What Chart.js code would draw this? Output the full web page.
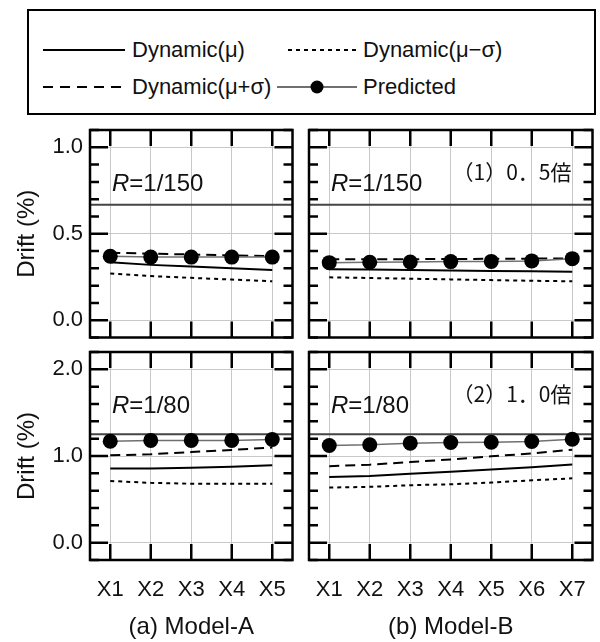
<!DOCTYPE html>
<html>
<head>
<meta charset="utf-8">
<script src="https://cdn.jsdelivr.net/npm/chart.js@4"></script>
<style>
  body { margin: 0; background: #fff; }
  #page { position: relative; width: 600px; height: 642px; overflow: hidden; font-family: 'Liberation Sans', Arial, sans-serif; color: #111; }
  .box { position: absolute; }
  #legend { position: absolute; left: 27px; top: 9px; width: 569px; height: 106px; box-sizing: border-box; border: 2px solid #000; }
  .lg { position: absolute; font-size: 22px; line-height: 26px; white-space: nowrap; }
  svg.sample { position: absolute; left: 0; top: 0; }
</style>
</head>
<body>
<div id="page">
  <div id="legend"></div>
  <svg class="sample" width="600" height="120">
    <line x1="43" y1="50" x2="125" y2="50" stroke="#000" stroke-width="2"/>
    <line x1="288" y1="50" x2="358" y2="50" stroke="#000" stroke-width="2" stroke-dasharray="4 4"/>
    <line x1="43" y1="87" x2="125" y2="87" stroke="#000" stroke-width="2" stroke-dasharray="10 7"/>
    <line x1="277" y1="87" x2="357" y2="87" stroke="#707070" stroke-width="2"/>
    <circle cx="317" cy="87" r="6.5" fill="#000"/>
  </svg>
  <span class="lg" style="left:132px; top:37px;">Dynamic(μ)</span>
  <span class="lg" style="left:363px; top:37px;">Dynamic(μ−σ)</span>
  <span class="lg" style="left:132px; top:74px;">Dynamic(μ+σ)</span>
  <span class="lg" style="left:363px; top:74px;">Predicted</span>

  <div class="box" style="left:0; top:120px; width:300px; height:225px;"><canvas id="tl"></canvas></div>
  <div class="box" style="left:300px; top:120px; width:300px; height:225px;"><canvas id="tr"></canvas></div>
  <div class="box" style="left:0; top:342px; width:300px; height:300px;"><canvas id="bl"></canvas></div>
  <div class="box" style="left:300px; top:342px; width:300px; height:300px;"><canvas id="br"></canvas></div>
</div>
<script>
// categories
const catsA = ['X1', 'X2', 'X3', 'X4', 'X5'];
const catsB = ['X1', 'X2', 'X3', 'X4', 'X5', 'X6', 'X7'];

// reference drift limits (%)
const refTop = 0.667;    // R=1/150
const refBottom = 1.25;  // R=1/80

// Model-A, R=1/150
const a150Mu   = [0.335, 0.32, 0.31, 0.30, 0.29];
const a150Lo   = [0.27, 0.255, 0.245, 0.235, 0.225];
const a150Hi   = [0.39, 0.385, 0.38, 0.375, 0.37];
const a150Pred = [0.37, 0.365, 0.365, 0.365, 0.365];

// Model-B, R=1/150
const b150Mu   = [0.295, 0.293, 0.29, 0.287, 0.285, 0.283, 0.28];
const b150Lo   = [0.248, 0.244, 0.24, 0.236, 0.232, 0.228, 0.225];
const b150Hi   = [0.352, 0.352, 0.353, 0.354, 0.355, 0.356, 0.358];
const b150Pred = [0.333, 0.335, 0.337, 0.339, 0.34, 0.343, 0.356];

// Model-A, R=1/80
const a80Mu   = [0.856, 0.857, 0.864, 0.875, 0.894];
const a80Lo   = [0.712, 0.69, 0.68, 0.68, 0.68];
const a80Hi   = [1.008, 1.02, 1.045, 1.07, 1.098];
const a80Pred = [1.17, 1.18, 1.18, 1.18, 1.19];

// Model-B, R=1/80
const b80Mu   = [0.758, 0.769, 0.795, 0.818, 0.845, 0.871, 0.902];
const b80Lo   = [0.636, 0.644, 0.663, 0.674, 0.693, 0.72, 0.742];
const b80Hi   = [0.883, 0.90, 0.93, 0.96, 0.996, 1.03, 1.072];
const b80Pred = [1.121, 1.129, 1.148, 1.155, 1.159, 1.167, 1.193];

Chart.defaults.font.family = "'Liberation Sans', Arial, sans-serif";
Chart.defaults.color = '#111';

// frame, inward ticks, reference line and panel notes
const framePlugin = {
  id: 'frame',
  beforeDatasetsDraw(chart, args, opts) {
    const { ctx, chartArea: a, scales } = chart;
    const y = scales.y.getPixelForValue(opts.ref);
    ctx.save();
    ctx.strokeStyle = '#454545';
    ctx.lineWidth = 2;
    ctx.beginPath();
    ctx.moveTo(a.left, y);
    ctx.lineTo(a.right, y);
    ctx.stroke();
    ctx.restore();
  },
  afterDatasetsDraw(chart, args, opts) {
    const { ctx, chartArea: a, scales } = chart;
    ctx.save();
    ctx.strokeStyle = '#000';
    ctx.lineWidth = 2.5;
    // left / right ticks
    const ys = scales.y;
    const k0 = Math.ceil(ys.min / opts.minor - 1e-6);
    const k1 = Math.floor(ys.max / opts.minor + 1e-6);
    ctx.beginPath();
    for (let k = k0; k <= k1; k++) {
      const v = k * opts.minor;
      const r = v / opts.major;
      const len = Math.abs(r - Math.round(r)) < 1e-6 ? 18 : 9;
      const py = ys.getPixelForValue(v);
      ctx.moveTo(a.left, py); ctx.lineTo(a.left + len, py);
      ctx.moveTo(a.right, py); ctx.lineTo(a.right - len, py);
    }
    // top / bottom ticks
    chart.data.labels.forEach((c, i) => {
      const px = scales.x.getPixelForValue(i);
      ctx.moveTo(px, a.top); ctx.lineTo(px, a.top + 16);
      ctx.moveTo(px, a.bottom); ctx.lineTo(px, a.bottom - 16);
    });
    ctx.stroke();
    ctx.strokeRect(a.left, a.top, a.right - a.left, a.bottom - a.top);

    // R label
    ctx.fillStyle = '#111';
    ctx.textBaseline = 'middle';
    ctx.textAlign = 'left';
    let x = a.left + 22;
    const ty = a.top + 54;
    ctx.font = "italic 24px 'Liberation Sans', Arial, sans-serif";
    ctx.fillText('R', x, ty);
    x += ctx.measureText('R').width;
    ctx.font = "24px 'Liberation Sans', Arial, sans-serif";
    ctx.fillText(opts.rText, x, ty);

    if (opts.note) {
      ctx.font = "21px 'Noto Sans CJK JP', sans-serif";
      ctx.textAlign = 'right';
      ctx.fillText(opts.note, a.right - 21, a.top + 42);
    }
    ctx.restore();
  }
};

function makePanel(id, cats, mu, lo, hi, pred, p) {
  const dyn = (label, data, dash) => ({
    label, data, borderColor: '#000', borderWidth: 2, borderDash: dash,
    pointRadius: 0, fill: false, tension: 0, order: 2
  });
  return new Chart(document.getElementById(id), {
    type: 'line',
    data: {
      labels: cats,
      datasets: [
        dyn('Dynamic(μ)', mu, []),
        dyn('Dynamic(μ−σ)', lo, [4, 4]),
        dyn('Dynamic(μ+σ)', hi, [10, 6]),
        {
          label: 'Predicted', data: pred, borderColor: '#707070', borderWidth: 1.5,
          pointRadius: 7.5, pointBackgroundColor: '#000', pointBorderColor: '#000',
          pointBorderWidth: 0, fill: false, tension: 0, order: 1
        }
      ]
    },
    options: {
      responsive: true,
      maintainAspectRatio: false,
      animation: false,
      layout: { padding: p.padding },
      plugins: {
        legend: { display: false },
        tooltip: { enabled: false },
        frame: { ref: p.ref, minor: p.minor, major: p.major, rText: p.rText, note: p.note }
      },
      scales: {
        x: {
          type: 'category',
          offset: true,
          grid: { offset: false, color: '#c8c8c8', lineWidth: 1, drawTicks: false },
          border: { display: false },
          ticks: { display: p.xLabels, padding: 17, font: { size: 22 }, maxRotation: 0, autoSkip: false },
          title: { display: !!p.xTitle, text: p.xTitle, font: { size: 24 }, padding: { top: 0, bottom: 0 } },
          afterFit: s => { s.height = p.xHeight; s.paddingLeft = 0; s.paddingRight = 0; }
        },
        y: {
          min: p.yMin,
          max: p.yMax,
          grid: { color: '#c8c8c8', lineWidth: 1, drawTicks: false },
          border: { display: false },
          ticks: {
            display: p.yLabels, stepSize: p.major, includeBounds: false, padding: 7,
            font: { size: 22 }, callback: v => Number(v).toFixed(1)
          },
          title: { display: p.yLabels, text: 'Drift (%)', font: { size: 24 }, padding: { top: 13, bottom: 0 } },
          afterFit: s => { s.width = p.yWidth; s.paddingTop = 0; s.paddingBottom = 0; }
        }
      }
    },
    plugins: [framePlugin]
  });
}

makePanel('tl', catsA, a150Mu, a150Lo, a150Hi, a150Pred, {
  padding: { top: 10, right: 2, bottom: 7, left: 0 }, yWidth: 90, xHeight: 0,
  yMin: -0.1, yMax: 1.1, major: 0.5, minor: 0.1, ref: refTop,
  rText: '=1/150', note: '', yLabels: true, xLabels: false, xTitle: ''
});
makePanel('tr', catsB, b150Mu, b150Lo, b150Hi, b150Pred, {
  padding: { top: 10, right: 1, bottom: 7, left: 0 }, yWidth: 9, xHeight: 0,
  yMin: -0.1, yMax: 1.1, major: 0.5, minor: 0.1, ref: refTop,
  rText: '=1/150', note: '（1）0．5倍', yLabels: false, xLabels: false, xTitle: ''
});
makePanel('bl', catsA, a80Mu, a80Lo, a80Hi, a80Pred, {
  padding: { top: 10, right: 2, bottom: 0, left: 0 }, yWidth: 90, xHeight: 82,
  yMin: -0.2, yMax: 2.2, major: 1.0, minor: 0.2, ref: refBottom,
  rText: '=1/80', note: '', yLabels: true, xLabels: true, xTitle: '(a) Model-A'
});
makePanel('br', catsB, b80Mu, b80Lo, b80Hi, b80Pred, {
  padding: { top: 10, right: 1, bottom: 0, left: 0 }, yWidth: 9, xHeight: 82,
  yMin: -0.2, yMax: 2.2, major: 1.0, minor: 0.2, ref: refBottom,
  rText: '=1/80', note: '（2）1．0倍', yLabels: false, xLabels: true, xTitle: '(b) Model-B'
});
</script>
</body>
</html>
